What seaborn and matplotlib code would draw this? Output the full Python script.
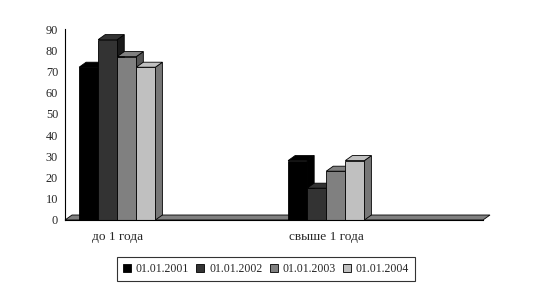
import matplotlib
matplotlib.use("Agg")
import matplotlib.pyplot as plt
import seaborn as sns
import pandas as pd
import numpy as np
from matplotlib.patches import Polygon, Patch

# ---- data ----
categories = ["до 1 года", "свыше 1 года"]
axis_slots = ["до 1 года", "gap1", "свыше 1 года", "gap2"]
series = ["01.01.2001", "01.01.2002", "01.01.2003", "01.01.2004"]
s2001 = [72, 28]
s2002 = [85, 15]
s2003 = [77, 23]
s2004 = [72, 28]
y_ticks = [0, 10, 20, 30, 40, 50, 60, 70, 80, 90]

colors = ["#000000", "#333333", "#808080", "#c0c0c0"]
side_colors = ["#000000", "#1a1a1a", "#555555", "#777777"]

rows = []
for name, vals in zip(series, [s2001, s2002, s2003, s2004]):
    for c, v in zip(categories, vals):
        rows.append({"cat": c, "series": name, "value": v})
df = pd.DataFrame(rows)

sns.set_style("white")
plt.rcParams["font.family"] = ["Liberation Serif", "DejaVu Serif"]

fig = plt.figure(figsize=(5.35, 2.91), dpi=100)
ax = fig.add_axes([65 / 535, 71 / 291, (483 - 65) / 535, (220 - 29) / 291])

sns.barplot(data=df, x="cat", y="value", hue="series", order=axis_slots,
            hue_order=series, palette=colors, width=0.73, ax=ax,
            edgecolor="black", linewidth=0.6, legend=False, saturation=1)

ax.set_xlim(-0.5, 3.5)
ax.set_ylim(0, 90)
ax.set_yticks(y_ticks)
ax.set_yticklabels([str(t) for t in y_ticks], fontsize=8.8)
ax.set_xticks([0.5, 1.5, 2.5, 3.5])
ax.set_xticklabels([])
ax.set_xticks([0, 2], minor=True)
ax.set_xticklabels(categories, minor=True, fontsize=9.6)
ax.tick_params(axis="x", which="major", length=4, width=0.8, direction="out", color="black")
ax.tick_params(axis="x", which="minor", length=0, pad=8)
ax.tick_params(axis="y", length=3, width=0.8, direction="out", color="black", pad=2)
ax.set_xlabel("")
ax.set_ylabel("")
for sp in ["top", "right"]:
    ax.spines[sp].set_visible(False)
for sp in ["left", "bottom"]:
    ax.spines[sp].set_color("black")
    ax.spines[sp].set_linewidth(0.8)
    ax.spines[sp].set_zorder(10)

fig.canvas.draw()
DX, DY = 7, 5  # depth in pixels
tr = ax.transData
inv = tr.inverted()

def off(xd, yd):
    px, py = tr.transform((xd, yd))
    return inv.transform((px + DX, py + DY))

# floor
x0, x1 = ax.get_xlim()
floor_pts = [(x0, 0), (x1, 0), tuple(off(x1, 0)), tuple(off(x0, 0))]
ax.add_patch(Polygon(floor_pts, closed=True, facecolor="#808080", edgecolor="black",
                     linewidth=0.6, zorder=1, clip_on=False))

bars = [p for p in ax.patches if isinstance(p, matplotlib.patches.Rectangle)
        and p.get_height() > 0]
bars = sorted(bars, key=lambda p: p.get_x())
for i, b in enumerate(bars):
    x, w, h = b.get_x(), b.get_width(), b.get_height()
    ci = colors.index(matplotlib.colors.to_hex(b.get_facecolor()))
    z = 2 + i * 0.1
    side = [(x + w, 0), (x + w, h), tuple(off(x + w, h)), tuple(off(x + w, 0))]
    top = [(x, h), (x + w, h), tuple(off(x + w, h)), tuple(off(x, h))]
    ax.add_patch(Polygon(side, closed=True, facecolor=side_colors[ci], edgecolor="black",
                         linewidth=0.6, zorder=z, clip_on=False))
    ax.add_patch(Polygon(top, closed=True, facecolor=colors[ci], edgecolor="black",
                         linewidth=0.6, zorder=z, clip_on=False))
    b.set_zorder(z + 0.05)

handles = [Patch(facecolor=c, edgecolor="black", linewidth=0.6, label=s)
           for c, s in zip(colors, series)]
leg = fig.legend(handles=handles, loc="center", bbox_to_anchor=(266 / 535, 1 - 269 / 291),
                 ncol=4, frameon=True, fontsize=8.5, handlelength=0.7, handleheight=0.7,
                 handletextpad=0.4, columnspacing=0.6, borderpad=0.5, fancybox=False)
leg.get_frame().set_edgecolor("black")
leg.get_frame().set_linewidth(0.8)

fig.savefig("out.png", dpi=100)
